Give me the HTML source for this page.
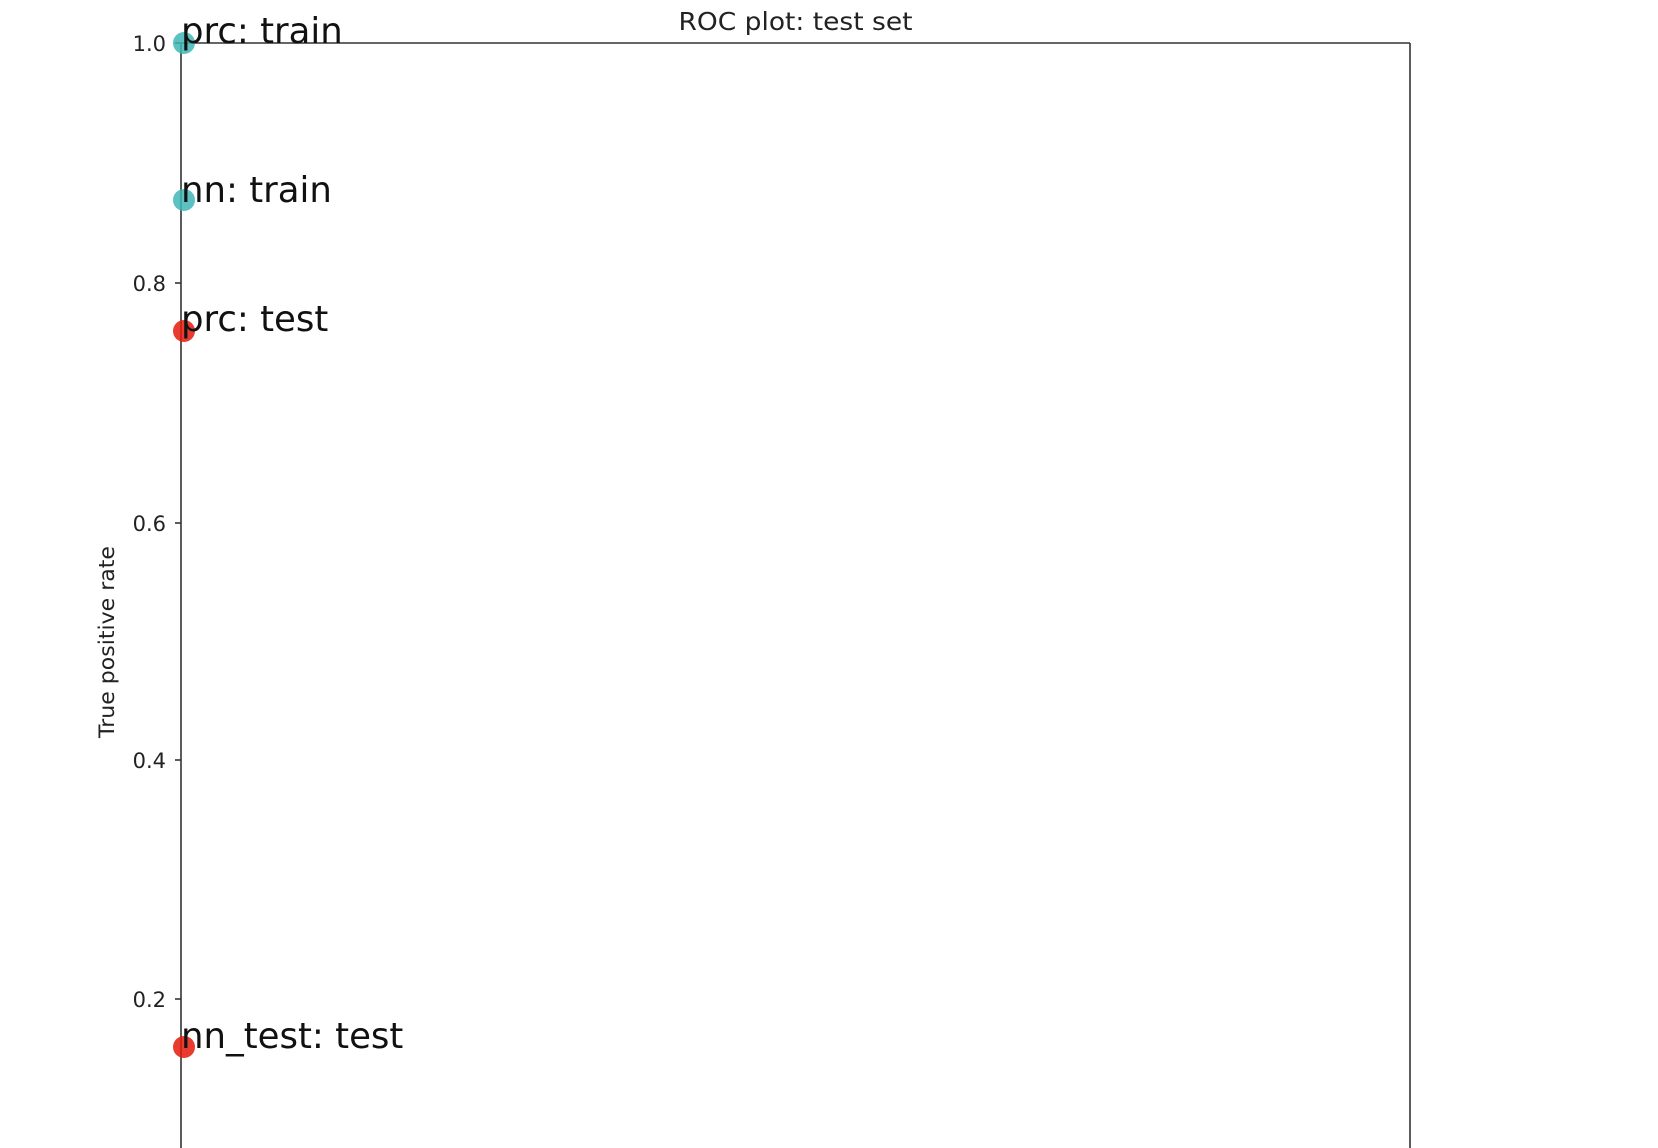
<!DOCTYPE html>
<html><head><meta charset="utf-8"><style>
html,body{margin:0;padding:0;background:#fff;}
svg{display:block;font-family:"DejaVu Sans","Liberation Sans",sans-serif;}
</style></head><body>
<svg width="1658" height="1148" viewBox="0 0 1658 1148" xmlns="http://www.w3.org/2000/svg">
<rect width="1658" height="1148" fill="#fff"/>
<text x="795.5" y="30" font-size="25" text-anchor="middle" fill="#222" textLength="234" lengthAdjust="spacingAndGlyphs">ROC plot: test set</text>
<g stroke="#333" stroke-width="1.6" fill="none">
<line x1="181" y1="43" x2="1410" y2="43"/>
<line x1="181" y1="43" x2="181" y2="1148"/>
<line x1="1410" y1="43" x2="1410" y2="1148"/>
<line x1="175" y1="43" x2="181" y2="43"/>
<line x1="175" y1="283" x2="181" y2="283"/>
<line x1="175" y1="523" x2="181" y2="523"/>
<line x1="175" y1="760" x2="181" y2="760"/>
<line x1="175" y1="999" x2="181" y2="999"/>
</g>
<g font-size="21" text-anchor="end" fill="#222">
<text x="166" y="51">1.0</text>
<text x="166" y="291">0.8</text>
<text x="166" y="531">0.6</text>
<text x="166" y="768">0.4</text>
<text x="166" y="1007">0.2</text>
</g>
<text transform="translate(114,642) rotate(-90)" font-size="21.5" text-anchor="middle" fill="#222" textLength="192" lengthAdjust="spacingAndGlyphs">True positive rate</text>
<g opacity="0.85">
<circle cx="184" cy="43" r="11" fill="#3fb6b6"/>
<circle cx="184" cy="200" r="11" fill="#3fb6b6"/>
<circle cx="184" cy="331" r="11" fill="#e41a0c"/>
<circle cx="184" cy="1047" r="11" fill="#e41a0c"/>
</g>
<g font-size="35.5" fill="#111">
<text x="181" y="43">prc: train</text>
<text x="181" y="202">nn: train</text>
<text x="181" y="331">prc: test</text>
<text x="181" y="1048">nn_test: test</text>
</g>
</svg>
</body></html>
